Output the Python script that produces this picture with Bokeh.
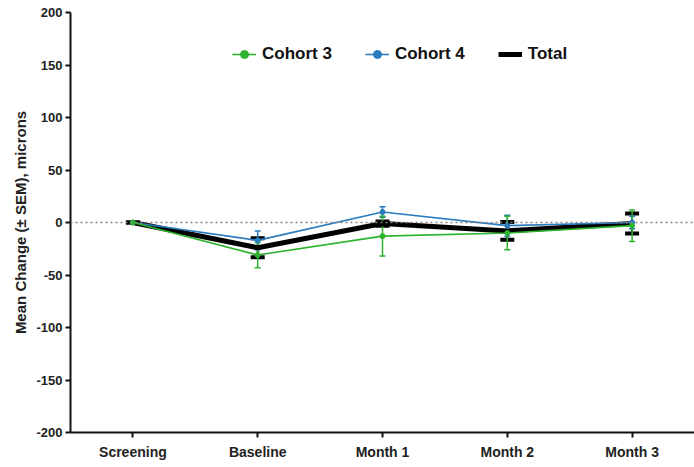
from bokeh.plotting import figure
from bokeh.models import (ColumnDataSource, FactorRange, Range1d, Span, Whisker,
                          TeeHead, Legend, LegendItem, FixedTicker)
from bokeh.embed import file_html
from bokeh.resources import INLINE

# Visits along the x axis
visits = ["Screening", "Baseline", "Month 1", "Month 2", "Month 3"]

# Mean change from screening (microns) and SEM per group
cohort3_mean = [0, -31, -13, -10, -3]
cohort3_sem = [0, 12, 19, 16, 15]
cohort4_mean = [0, -17, 10, -3, 0]
cohort4_sem = [0, 9, 5, 10, 6]
total_mean = [0, -24, -1, -8, -1]
total_sem = [0, 9, 2, 8.5, 9.5]

y_ticks = [-200, -150, -100, -50, 0, 50, 100, 150, 200]

FONT = "Liberation Sans"
GREEN = "#2db32d"
BLUE = "#2b7bbf"
BLACK = "#000000"


def make_source(mean, sem):
    return ColumnDataSource(dict(
        x=visits,
        y=mean,
        lo=[m - s for m, s in zip(mean, sem)],
        hi=[m + s for m, s in zip(mean, sem)],
    ))


p = figure(
    width=694, height=467,
    x_range=FactorRange(*visits, range_padding=0),
    y_range=Range1d(-200, 200),
    output_backend="svg", toolbar_location=None,
    min_border_left=70, min_border_right=0,
    min_border_top=12, min_border_bottom=35,
)
p.outline_line_color = None
p.grid.visible = False
p.background_fill_color = "white"
p.border_fill_color = "white"

# zero reference line
p.add_layout(Span(location=0, dimension="width", line_color="#8c7f7f",
                  line_width=1.5, line_dash="2 3"))

src_total = make_source(total_mean, total_sem)
src_c4 = make_source(cohort4_mean, cohort4_sem)
src_c3 = make_source(cohort3_mean, cohort3_sem)

# Total: thick black line with wide caps
r_total = p.line("x", "y", source=src_total, line_color=BLACK, line_width=5)
p.add_layout(Whisker(
    source=src_total, base="x", lower="lo", upper="hi",
    line_color=BLACK, line_width=2,
    upper_head=TeeHead(size=14, line_width=4, line_color=BLACK),
    lower_head=TeeHead(size=14, line_width=4, line_color=BLACK),
))

# Cohort 4
r_c4 = p.line("x", "y", source=src_c4, line_color=BLUE, line_width=1.6)
p.add_layout(Whisker(
    source=src_c4, base="x", lower="lo", upper="hi",
    line_color=BLUE, line_width=1.5,
    upper_head=TeeHead(size=6, line_width=1.5, line_color=BLUE),
    lower_head=TeeHead(size=6, line_width=1.5, line_color=BLUE),
))
r_c4m = p.scatter("x", "y", source=src_c4, size=5, color=BLUE)

# Cohort 3
r_c3 = p.line("x", "y", source=src_c3, line_color=GREEN, line_width=1.6)
p.add_layout(Whisker(
    source=src_c3, base="x", lower="lo", upper="hi",
    line_color=GREEN, line_width=1.5,
    upper_head=TeeHead(size=6, line_width=1.5, line_color=GREEN),
    lower_head=TeeHead(size=6, line_width=1.5, line_color=GREEN),
))
r_c3m = p.scatter("x", "y", source=src_c3, size=5, color=GREEN)

# axes
for ax in (p.xaxis[0], p.yaxis[0]):
    ax.axis_line_width = 2
    ax.axis_line_color = "#111111"
    ax.major_tick_line_width = 2
    ax.major_tick_line_color = "#111111"
    ax.major_tick_out = 5
    ax.major_tick_in = 0
    ax.minor_tick_line_color = None
    ax.major_label_text_font = FONT
    ax.major_label_text_font_style = "bold"
    ax.major_label_text_color = "#222222"

p.xaxis.major_label_text_font_size = "14px"
p.yaxis.major_label_text_font_size = "13px"
p.yaxis.ticker = FixedTicker(ticks=y_ticks)
p.yaxis.major_label_overrides = {t: str(t) for t in y_ticks}
p.yaxis.major_label_standoff = 3
p.yaxis.axis_label = "Mean Change (\u00b1 SEM), microns"
p.yaxis.axis_label_text_font = FONT
p.yaxis.axis_label_text_font_style = "bold"
p.yaxis.axis_label_text_font_size = "15px"
p.yaxis.axis_label_text_color = "#222222"
p.yaxis.axis_label_standoff = 4
p.xaxis.major_label_standoff = 6

legend = Legend(
    items=[
        LegendItem(label="Cohort 3", renderers=[r_c3, r_c3m]),
        LegendItem(label="Cohort 4", renderers=[r_c4, r_c4m]),
        LegendItem(label="Total", renderers=[r_total]),
    ],
    orientation="horizontal",
    location=(162, 368),
    padding=5, spacing=33, glyph_width=24, glyph_height=20,
    label_standoff=6,
    label_text_font=FONT, label_text_font_style="bold",
    label_text_font_size="17px", label_text_color="#111111",
    border_line_color=None, background_fill_alpha=0,
)
p.add_layout(legend)

open("out.html", "w").write(file_html(p, INLINE))
